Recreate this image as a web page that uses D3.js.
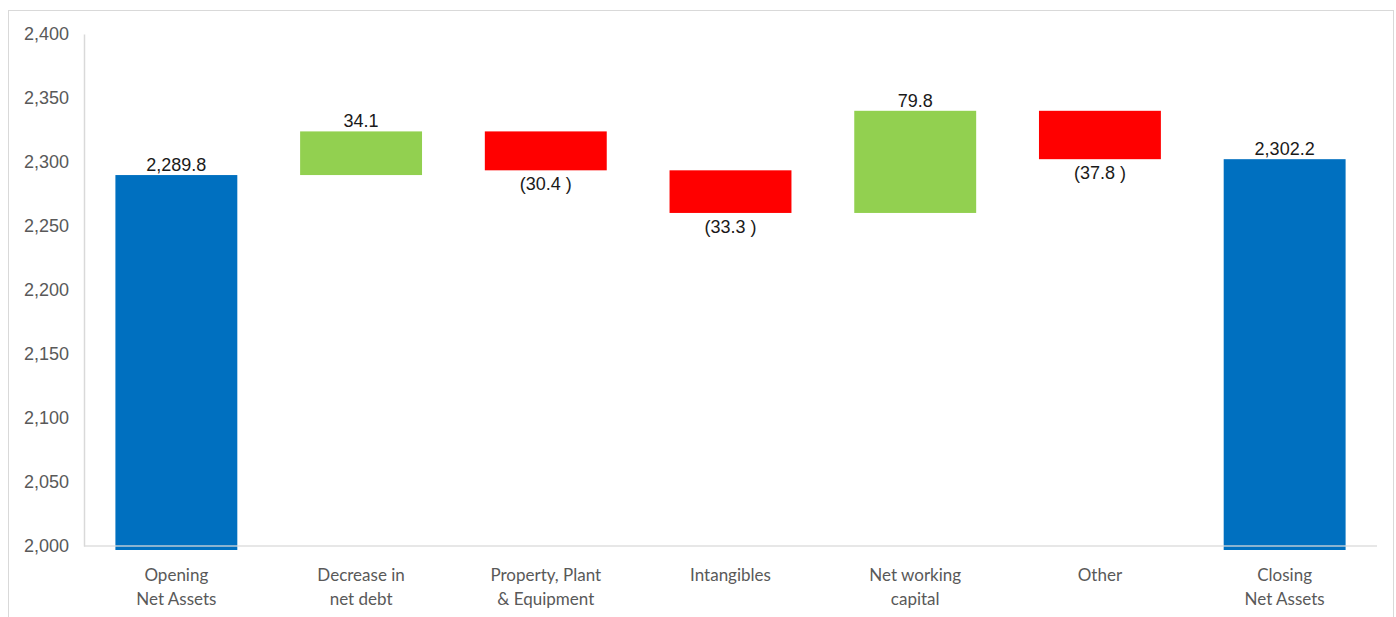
<!DOCTYPE html>
<html>
<head>
<meta charset="utf-8">
<script src="https://cdn.jsdelivr.net/npm/d3@7"></script>
<style>
    body { margin: 0; background: #fff; }
    svg { display: block; }
</style>
</head>
<body>
<div id="chart"></div>
<script>
// waterfall data
var categories = ['Opening\nNet Assets', 'Decrease in\nnet debt', 'Property, Plant\n& Equipment', 'Intangibles', 'Net working\ncapital', 'Other', 'Closing\nNet Assets'];
var changes = [2289.8, 34.1, -30.4, -33.3, 79.8, -37.8, 2302.2];
var kinds = ['total', 'delta', 'delta', 'delta', 'delta', 'delta', 'total'];
var yTicks = [2000, 2050, 2100, 2150, 2200, 2250, 2300, 2350, 2400];

var W = 1396, H = 617;
var margin = {top: 34, right: 19, bottom: 71, left: 84};
var width = W - margin.left - margin.right,
    height = H - margin.top - margin.bottom;

var rows = [];
var running = 0;
changes.forEach(function (v, i) {
    var d = {cat: categories[i], value: v, kind: kinds[i]};
    if (kinds[i] === 'total') {
        d.start = 2000; d.end = v; running = v;
    } else {
        d.start = running; d.end = running + v; running = d.end;
    }
    rows.push(d);
});

var svg = d3.select('#chart').append('svg')
    .attr('width', W).attr('height', H);

// outer frame
svg.append('rect')
    .attr('x', 8.5).attr('y', 10.5)
    .attr('width', 1385).attr('height', 620)
    .attr('fill', 'none').attr('stroke', '#d9d9d9');

var g = svg.append('g')
    .attr('transform', 'translate(' + margin.left + ',' + margin.top + ')');

var x = d3.scaleBand().domain(categories).range([0, width]).paddingInner(0.34).paddingOuter(0.17);
var y = d3.scaleLinear().domain([2000, 2400]).range([height, 0]);

var colour = function (d) {
    if (d.kind === 'total') return '#0070C0';
    return d.value >= 0 ? '#92D050' : '#FF0000';
};

g.selectAll('rect.bar').data(rows).enter().append('rect')
    .attr('class', 'bar')
    .attr('x', function (d) { return x(d.cat); })
    .attr('width', x.bandwidth())
    .attr('y', function (d) { return y(Math.max(d.start, d.end)); })
    .attr('height', function (d) {
        var h = Math.abs(y(d.start) - y(d.end));
        return d.kind === 'total' ? h + 4 : h;
    })
    .attr('fill', colour);

// axes
var yAxis = g.append('g').call(d3.axisLeft(y).tickValues(yTicks).tickSize(0).tickPadding(15).tickFormat(d3.format(',')));
yAxis.select('.domain').attr('stroke', '#d9d9d9').attr('stroke-width', 1.5);
yAxis.selectAll('text')
    .attr('fill', '#595959')
    .style('font-family', '"Liberation Sans", Arial, sans-serif')
    .style('font-size', '18px');

g.append('line')
    .attr('x1', 0).attr('x2', width)
    .attr('y1', y(2000)).attr('y2', y(2000))
    .attr('stroke', '#d9d9d9').attr('stroke-opacity', 0.85).attr('stroke-width', 1.5);

// category labels
var catLabels = g.selectAll('text.cat').data(categories).enter().append('text')
    .attr('class', 'cat')
    .attr('text-anchor', 'middle')
    .attr('fill', '#595959')
    .style('font-family', 'Lato, "Open Sans", sans-serif')
    .style('font-size', '17px')
    .attr('transform', function (d) { return 'translate(' + (x(d) + x.bandwidth() / 2) + ',' + (height + 35) + ')'; });
catLabels.each(function (d) {
    var lines = d.split('\n');
    var t = d3.select(this);
    lines.forEach(function (l, i) {
        t.append('tspan').attr('x', 0).attr('y', i * 24).text(l);
    });
});

// value labels
var fmtTotal = d3.format(',.1f');
g.selectAll('text.val').data(rows).enter().append('text')
    .attr('class', 'val')
    .attr('text-anchor', 'middle')
    .attr('fill', '#1a1a1a')
    .style('font-family', '"Liberation Sans", Arial, sans-serif')
    .style('font-size', '18px')
    .attr('x', function (d) { return x(d.cat) + x.bandwidth() / 2; })
    .attr('y', function (d) {
        if (d.kind === 'delta' && d.value < 0) return y(d.end) + 20;
        return y(Math.max(d.start, d.end)) - 4;
    })
    .text(function (d) {
        if (d.kind === 'total') return fmtTotal(d.value);
        if (d.value < 0) return '(' + Math.abs(d.value).toFixed(1) + ' )';
        return d.value.toFixed(1);
    });
</script>
</body>
</html>
